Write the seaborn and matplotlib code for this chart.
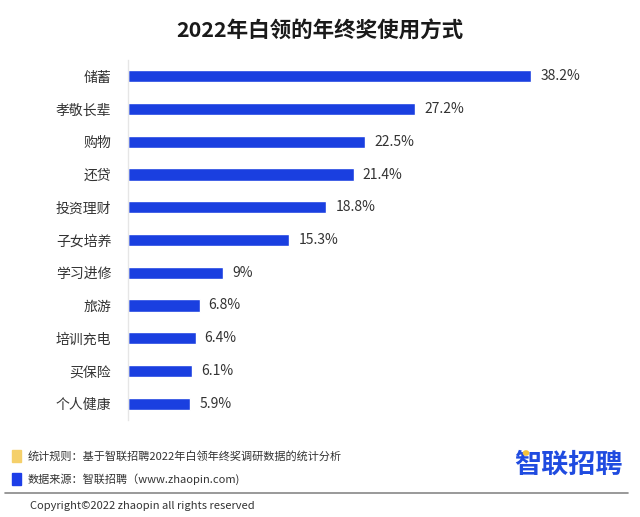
import matplotlib
matplotlib.use('Agg')
import matplotlib.pyplot as plt
import seaborn as sns
import pandas as pd
from matplotlib.patches import Rectangle, Circle

# data
categories = ['储蓄', '孝敬长辈', '购物', '还贷', '投资理财', '子女培养',
              '学习进修', '旅游', '培训充电', '买保险', '个人健康']
values = [38.2, 27.2, 22.5, 21.4, 18.8, 15.3, 9, 6.8, 6.4, 6.1, 5.9]
value_labels = ['38.2%', '27.2%', '22.5%', '21.4%', '18.8%', '15.3%',
                '9%', '6.8%', '6.4%', '6.1%', '5.9%']

title = '2022年白领的年终奖使用方式'
note_rule = '统计规则：基于智联招聘2022年白领年终奖调研数据的统计分析'
note_source = '数据来源：智联招聘（www.zhaopin.com)'
logo_text = '智联招聘'
copyright_text = 'Copyright©2022 zhaopin all rights reserved'

sns.set_style('white')
plt.rcParams['font.family'] = ['Noto Sans CJK SC', 'DejaVu Sans']

df = pd.DataFrame({'category': categories, 'value': values})

bar_color = '#1a3fe0'
fig = plt.figure(figsize=(6.4, 5.17), dpi=100)
ax = fig.add_axes([0.2, 0.1876, 0.74, 0.6964])

sns.barplot(data=df, x='value', y='category', color=bar_color,
            width=0.37, saturation=1, ax=ax)

for i, (v, lab) in enumerate(zip(values, value_labels)):
    ax.text(v + 0.85, i, lab, va='center', ha='left', fontsize=10, color='#333333')

ax.set_xlim(0, 44.87)
ax.set_ylim(10.5, -0.5)
ax.set_xlabel('')
ax.set_ylabel('')
ax.set_xticks([])
ax.tick_params(axis='y', length=0, pad=12, labelsize=10, labelcolor='#333333')
for side in ['top', 'right', 'bottom']:
    ax.spines[side].set_visible(False)
ax.spines['left'].set_color('#e6e6e6')
ax.spines['left'].set_linewidth(1)

fig.text(0.5, 0.94, title, ha='center', va='center', fontsize=15.5,
         fontweight='bold', color='#1a1a1a')

# footer
W, H = 640, 517
fig.patches.append(Rectangle((12 / W, 1 - 462 / H), 9 / W, 12 / H,
                             transform=fig.transFigure, color='#f5d06a'))
fig.patches.append(Rectangle((12 / W, 1 - 485 / H), 9 / W, 12 / H,
                             transform=fig.transFigure, color='#1d3ee8'))
fig.text(28 / W, 1 - 456 / H, note_rule, ha='left', va='center', fontsize=8, color='#333333')
fig.text(28 / W, 1 - 479 / H, note_source, ha='left', va='center', fontsize=8, color='#333333')
fig.text(568 / W, 1 - 465 / H, logo_text, ha='center', va='center', fontsize=19.5,
         fontweight='bold', color='#1f4be0')
fig.patches.append(Circle((526 / W, 1 - 453 / H), 2.6 / W, transform=fig.transFigure,
                          color='#f5c23a', zorder=5))
fig.lines.append(plt.Line2D([5 / W, 628 / W], [1 - 493 / H, 1 - 493 / H],
                            transform=fig.transFigure, color='#888888', linewidth=1.2))
fig.text(30 / W, 1 - 506 / H, copyright_text, ha='left', va='center', fontsize=8, color='#333333')

fig.savefig('out.png', dpi=100)
